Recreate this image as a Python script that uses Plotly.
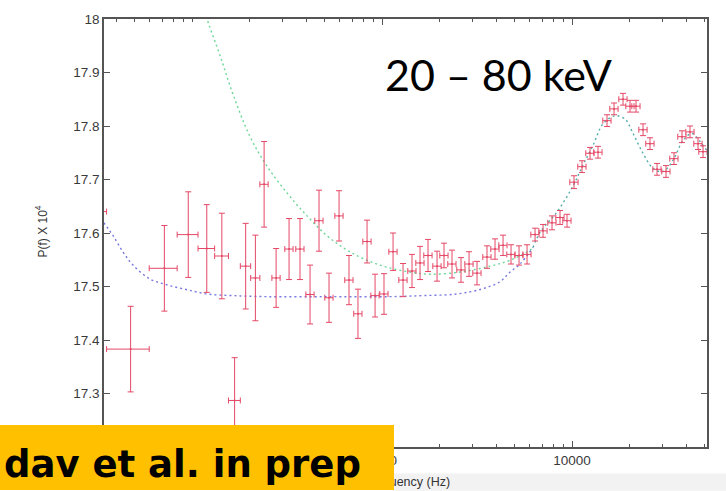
import numpy as np
import plotly.graph_objects as go

# Power spectrum, 20-80 keV band: P(f) x 1e4 against frequency (Hz)

# Low-frequency bins (linear bins, 24 Hz wide)
freq_lowbins = [23.5, 47.5, 71.5, 95.5, 119.5, 143.5, 167.5, 191.5, 215.5, 239.5]
power_lowbins = [17.64, 17.383, 17.534, 17.597, 17.571, 17.557, 17.287, 17.538, 17.516, 17.691]
err_lowbins = [0.08, 0.08, 0.08, 0.08, 0.082, 0.08, 0.08, 0.08, 0.08, 0.08]
halfwidth_lowbins = 12.0

# Higher-frequency bins
freq_hi = [277, 324, 370, 418, 466, 526, 594, 670, 747, 834,
           919, 1024, 1143, 1290, 1438, 1585, 1746, 1948, 2120, 2335,
           2605, 2871, 3162, 3569, 3933, 4334, 4775, 5262, 5798, 6389,
           7039, 7848, 8646, 9412, 10245, 11287, 12436, 13702, 15283, 16641,
           18554, 20199, 21722, 23652, 25734, 28020, 31241, 34418, 37918, 41786,
           46050, 48925]
power_hi = [17.516, 17.570, 17.570, 17.485, 17.623, 17.479, 17.632, 17.512, 17.449, 17.584,
            17.483, 17.486, 17.565, 17.512, 17.529, 17.544, 17.558, 17.538, 17.558, 17.542,
            17.531, 17.542, 17.525, 17.555, 17.570, 17.577, 17.560, 17.558, 17.560, 17.597,
            17.604, 17.619, 17.629, 17.623, 17.695, 17.724, 17.749, 17.751, 17.810, 17.832,
            17.850, 17.837, 17.837, 17.793, 17.767, 17.719, 17.715, 17.739, 17.780, 17.789,
            17.767, 17.752]
err_hi = [0.055, 0.057, 0.057, 0.055, 0.057, 0.046, 0.047, 0.046, 0.046, 0.040,
          0.040, 0.038, 0.035, 0.031, 0.031, 0.031, 0.030, 0.028, 0.023, 0.026,
          0.023, 0.023, 0.022, 0.021, 0.019, 0.019, 0.018, 0.018, 0.018, 0.012,
          0.012, 0.013, 0.013, 0.012, 0.012, 0.011, 0.011, 0.011, 0.011, 0.011,
          0.011, 0.011, 0.011, 0.011, 0.011, 0.011, 0.011, 0.011, 0.011, 0.011,
          0.011, 0.011]
halfwidth_hi_percent = 5

# Model with power-law red-noise component (low-frequency part)
green_freq = [110, 120, 140, 164, 202, 248, 316, 403, 513, 654, 834, 1062,
              1404, 1789, 2574, 3702, 4717, 6009]
green_power = [18.05, 18.0, 17.933, 17.860, 17.780, 17.725, 17.675, 17.632, 17.595,
               17.568, 17.549, 17.536, 17.527, 17.523, 17.527, 17.538, 17.549, 17.568]

# Model with constant (white-noise) level (low-frequency part)
blue_freq = [30, 34.4, 38.4, 43.4, 48.9, 60.1, 73.9, 94.1, 120, 164, 248, 532,
             1102, 1644, 2481, 3401, 4179, 4717, 5323]
blue_power = [17.65, 17.619, 17.595, 17.564, 17.540, 17.514, 17.503, 17.494, 17.486,
              17.483, 17.481, 17.481, 17.481, 17.483, 17.486, 17.496, 17.509, 17.527, 17.542]

# Where the two models coincide (QPO region)
tail_freq = [6232, 6785, 8437, 10122, 11428, 12899, 14561, 16839, 19007, 20950,
             23644, 26690, 30122, 34010, 38390, 42820, 47170, 51340, 53000]
tail_power = [17.573, 17.601, 17.642, 17.688, 17.727, 17.764, 17.804, 17.819, 17.813,
              17.786, 17.749, 17.721, 17.715, 17.736, 17.773, 17.786, 17.771, 17.754, 17.748]

# Labelled ticks (the 17.2 and 100 Hz positions sit behind the citation banner)
y_ticks = [17.3, 17.4, 17.5, 17.6, 17.7, 17.8, 17.9, 18.0]
y_ticktext = ["17.3", "17.4", "17.5", "17.6", "17.7", "17.8", "17.9", "18"]
x_ticks = [1000, 10000]
x_ticktext = ["1000", "10000"]

RED = "rgb(228,72,102)"
GREEN = "rgb(110,215,150)"
BLUE = "rgb(120,120,225)"
TEAL = "rgb(85,175,170)"
AXIS = "#555555"
TICKFONT = dict(family="Liberation Sans, Arial, sans-serif", size=13.5, color="#3a3a3a")

fig = go.Figure()

fig.add_trace(go.Scatter(
    x=green_freq + tail_freq[:1], y=green_power + tail_power[:1],
    mode="lines", line=dict(color=GREEN, width=1.4, dash="2px,3px", shape="spline"),
    hoverinfo="skip"))
fig.add_trace(go.Scatter(
    x=blue_freq + tail_freq[:1], y=blue_power + tail_power[:1],
    mode="lines", line=dict(color=BLUE, width=1.4, dash="2px,3px", shape="spline"),
    hoverinfo="skip"))
fig.add_trace(go.Scatter(
    x=tail_freq, y=tail_power,
    mode="lines", line=dict(color=TEAL, width=1.4, dash="2px,3px", shape="spline"),
    hoverinfo="skip"))

fig.add_trace(go.Scatter(
    x=freq_lowbins, y=power_lowbins, mode="markers",
    marker=dict(color=RED, size=2),
    error_y=dict(type="data", array=err_lowbins, color=RED, thickness=1, width=3),
    error_x=dict(type="constant", value=halfwidth_lowbins, color=RED, thickness=1, width=3)))
fig.add_trace(go.Scatter(
    x=freq_hi, y=power_hi, mode="markers",
    marker=dict(color=RED, size=2),
    error_y=dict(type="data", array=err_hi, color=RED, thickness=1, width=3),
    error_x=dict(type="percent", value=halfwidth_hi_percent, color=RED, thickness=1, width=3)))

# unlabelled log ticks: 2..9 of each decade, plus 100 Hz
minor_x = sorted([m * 10 ** e for e in range(1, 5) for m in range(2, 10)] + [100])

fig.update_xaxes(
    type="log", range=[np.log10(34.4), np.log10(51340)],
    tickmode="array", tickvals=x_ticks, ticktext=x_ticktext,
    ticks="inside", ticklen=6, tickwidth=1, tickcolor=AXIS,
    showline=True, linecolor=AXIS, linewidth=1.5, mirror="ticks",
    showgrid=False, zeroline=False, tickfont=TICKFONT,
    minor=dict(tickmode="array", tickvals=minor_x, ticks="inside", ticklen=3,
               tickwidth=1, tickcolor=AXIS, showgrid=False))
fig.update_yaxes(
    range=[17.2, 18.0], tickmode="array", tickvals=y_ticks, ticktext=y_ticktext,
    ticks="inside", ticklen=6, tickwidth=1, tickcolor=AXIS,
    showline=True, linecolor=AXIS, linewidth=1.5, mirror="ticks",
    showgrid=False, zeroline=False, tickfont=TICKFONT)

fig.update_layout(
    width=726, height=491,
    margin=dict(l=104, r=19, t=14, b=44),
    paper_bgcolor="white", plot_bgcolor="white",
    showlegend=False,
    shapes=[dict(type="rect", xref="paper", yref="paper",
                 x0=0.48, x1=1.05, y0=-0.102, y1=-0.062,
                 fillcolor="#f2f2f2", line=dict(width=0), layer="below")],
    annotations=[
        dict(text="Frequency (Hz)", xref="paper", yref="paper", x=0.5025, y=-0.081,
             xanchor="center", yanchor="middle", showarrow=False,
             font=dict(family="Liberation Sans, Arial, sans-serif", size=12.5, color="#333")),
        dict(text="P(f) X 10<sup>4</sup>", xref="paper", yref="paper", x=-0.1045, y=0.5035,
             xanchor="center", yanchor="middle", textangle=-90, showarrow=False,
             font=dict(family="Liberation Sans, Arial, sans-serif", size=12, color="#333")),
        dict(text="20 \u2013 80 keV", xref="paper", yref="paper", x=0.4627, y=0.871,
             xanchor="left", yanchor="middle", showarrow=False,
             font=dict(family="Lato, sans-serif", size=43, color="black")),
        # citation banner in the lower-left corner
        dict(text="<b>dav et al. in prep</b>", xref="paper", yref="paper",
             x=-0.1725, y=-0.1016, xanchor="left", yanchor="bottom", showarrow=False,
             width=386, height=57, borderpad=4, borderwidth=0,
             align="left", valign="bottom", bgcolor="#FFC000",
             font=dict(family="DejaVu Sans, sans-serif", size=37, color="black")),
    ],
)

fig.write_html("out.html")
